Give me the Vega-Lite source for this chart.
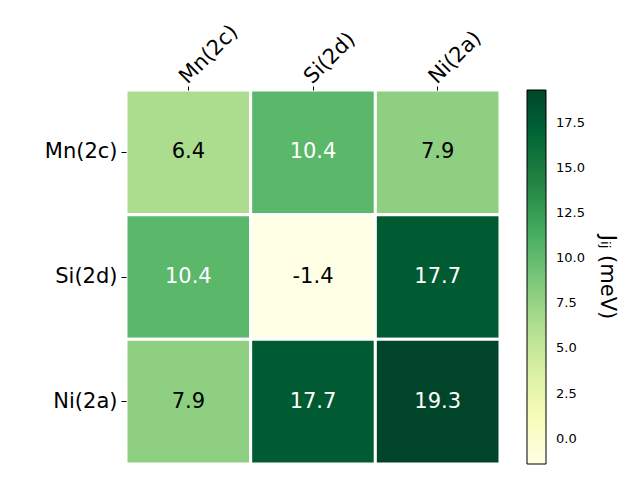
{
  "$schema": "https://vega.github.io/schema/vega-lite/v6.json",
  "width": 374,
  "height": 374,
  "autosize": "none",
  "padding": {"left": 126, "top": 90, "right": 140, "bottom": 16},
  "background": "white",
  "config": {"view": {"stroke": null}, "font": "DejaVu Sans",
    "locale": {"number": {"decimal": ".", "thousands": ",", "grouping": [3], "currency": ["$", ""], "minus": "-"}}},
  "data": {"values": [
    {"row": "Mn(2c)", "col": "Mn(2c)", "v": 6.4},
    {"row": "Mn(2c)", "col": "Si(2d)", "v": 10.4},
    {"row": "Mn(2c)", "col": "Ni(2a)", "v": 7.9},
    {"row": "Si(2d)", "col": "Mn(2c)", "v": 10.4},
    {"row": "Si(2d)", "col": "Si(2d)", "v": -1.4},
    {"row": "Si(2d)", "col": "Ni(2a)", "v": 17.7},
    {"row": "Ni(2a)", "col": "Mn(2c)", "v": 7.9},
    {"row": "Ni(2a)", "col": "Si(2d)", "v": 17.7},
    {"row": "Ni(2a)", "col": "Ni(2a)", "v": 19.3}
  ]},
  "encoding": {
    "x": {"field": "col", "type": "nominal", "sort": ["Mn(2c)", "Si(2d)", "Ni(2a)"],
      "scale": {"paddingInner": 0, "paddingOuter": 0},
      "axis": {"orient": "top", "title": null, "labelAngle": -45, "labelAlign": "left", "labelBaseline": "middle",
        "labelFontSize": 21, "labelColor": "black", "tickColor": "black", "tickSize": 4, "labelPadding": 6, "labelOffset": -5, "domain": false}},
    "y": {"field": "row", "type": "nominal", "sort": ["Mn(2c)", "Si(2d)", "Ni(2a)"],
      "scale": {"paddingInner": 0, "paddingOuter": 0},
      "axis": {"title": null, "labelFontSize": 21, "labelColor": "black", "tickColor": "black", "tickSize": 5, "labelPadding": 4, "domain": false}}
  },
  "layer": [
    {
      "mark": {"type": "rect", "stroke": "white", "strokeWidth": 3},
      "encoding": {
        "color": {"field": "v", "type": "quantitative",
          "scale": {"domain": [-1.4, 1.1875, 3.775, 6.3625, 8.95, 11.5375, 14.125, 16.7125, 19.3],
            "range": ["#ffffe5", "#f7fcb9", "#d9f0a3", "#addd8e", "#78c679", "#41ab5d", "#238443", "#006837", "#004529"],
            "nice": false, "zero": false},
          "legend": {"orient": "none", "legendX": 401, "legendY": 0, "direction": "vertical",
            "gradientLength": 374, "gradientThickness": 19, "gradientStrokeColor": "black", "gradientStrokeWidth": 1,
            "values": [0, 2.5, 5, 7.5, 10, 12.5, 15, 17.5], "format": ".1f", "labelFontSize": 13, "labelColor": "black",
            "labelOffset": 10,
            "title": "Jᵢⱼ (meV)", "titleOrient": "right", "titleFontSize": 21, "titleFontWeight": "normal", "titleColor": "black", "titleAnchor": "middle", "titlePadding": 12}}
      }
    },
    {
      "mark": {"type": "text", "fontSize": 21},
      "encoding": {
        "text": {"field": "v", "type": "quantitative", "format": ".1f"},
        "color": {"condition": {"test": "datum.v > 9", "value": "white"}, "value": "black"}
      }
    }
  ]
}
